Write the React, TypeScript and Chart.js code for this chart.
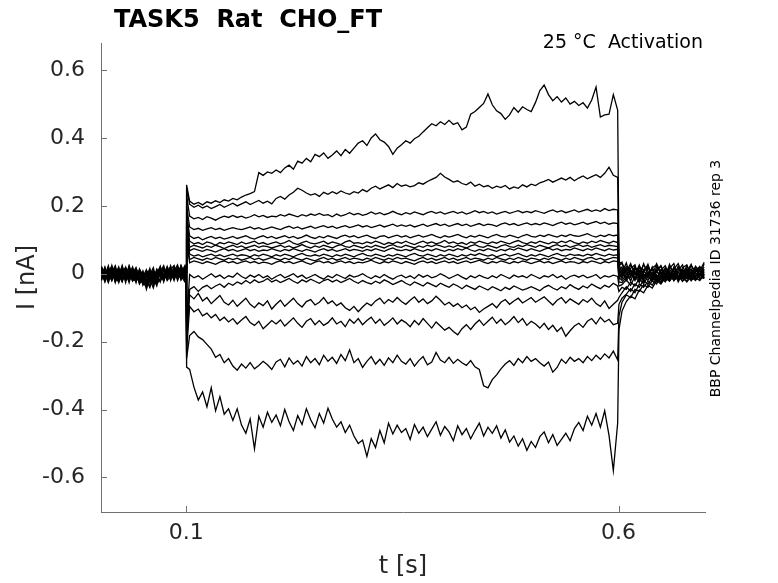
import React, { useEffect, useRef } from "react";
import { Chart, registerables } from "chart.js";

Chart.register(...registerables);

const TITLE = "TASK5  Rat  CHO_FT";
const CONDITION = "25 °C  Activation";
const SOURCE = "BBP Channelpedia ID 31736 rep 3";
const X_LABEL = "t [s]";
const Y_LABEL = "I [nA]";

const xTicks = [0.1, 0.6];
const yTicks = [-0.6, -0.4, -0.2, 0, 0.2, 0.4, 0.6];

// sampling of the sweeps (s)
const PRE_START = 0.002;
const PRE_DT = 0.004;
const PRE_LAST = 0.0998;
const PULSE_ON = 0.1005;
const STEP_START = 0.104;
const STEP_DT = 0.005;
const PULSE_OFF = 0.6005;
const POST_START = 0.604;
const POST_DT = 0.005;

// currents, in pA (1e-3 nA)
// holding before the pulse, one row per sweep
const preHold = [
  [12, -18, 6, 22, -10, -24, 8, 16, -6, 20, -16, 2, -28, 10, -4, 18, -20, 6, 24, -8, 14, -14, 4, 20, -10, 8],
  [-20, 10, -6, 18, -26, 4, 14, -12, 24, -4, -18, 8, -34, -10, 16, -22, 2, 20, -14, 6, -8, 22, -4, 12, -18, 16],
  [16, -4, 24, -16, 8, -22, 2, 18, -10, 6, -26, 14, -8, -20, -40, 4, -14, 10, -6, 18, -20, 8, 26, -6, 14, -2],
  [-8, 20, -14, 4, -22, 14, -2, -18, 10, -12, 16, -6, -24, 6, -16, -42, -6, 14, -10, 22, -2, 10, -16, 24, 4, 18],
  [6, -24, 12, -8, 18, -4, 22, -14, 2, -20, 8, -28, 4, -46, -12, 10, -22, 16, -4, -14, 12, 24, -8, 6, 18, -6],
  [-14, 4, -22, 12, -2, 20, -16, 8, -26, 14, -6, -12, -30, -4, 10, -18, 14, -2, -20, 8, 20, -10, 14, -4, 22, 2],
  [20, -10, 2, -20, 14, -6, -24, 10, -8, 18, -14, -4, -18, -32, 8, -12, -36, 10, -16, 4, -6, 18, 2, -12, 10, 26],
  [-2, 14, -20, 6, 24, -12, 10, -4, -22, 2, 18, -16, -8, 12, -24, -2, -26, 8, 16, -12, -2, 14, -10, 20, -6, 12],
  [10, -16, 18, -2, -12, 8, -20, 16, 4, -14, -4, -22, -12, -18, 6, -10, 2, -24, 12, -6, 24, -14, 6, -2, 16, -10],
  [-16, 6, -8, 16, -4, -20, 12, -26, 18, -8, -18, 12, -2, -34, -14, 8, -20, 14, -24, 10, 4, -12, 18, -8, 2, 20],
  [22, -8, -16, 4, 16, -10, -2, 20, -14, 12, -6, -24, 8, -22, -4, -28, 10, -10, -2, 16, -16, 4, -6, 24, -12, 0],
  [-6, 18, -12, 24, -18, 10, -22, 2, 14, -10, -24, 4, -28, -6, -12, -20, -6, 22, -14, 4, 14, -2, 20, -18, 8, -8],
  [4, -22, 14, -6, 8, -14, 18, -20, -4, 10, 0, -30, -14, -8, 2, -34, -8, -2, 18, -12, 6, -20, 10, -2, -14, 22],
  [-12, 8, 2, -20, 6, -8, 24, -14, 6, -22, -10, 10, -18, 4, -38, -14, -12, 2, -20, 14, -4, 12, -12, 18, -4, 6],
  [14, -2, -26, 6, -12, 16, -8, -18, 12, -4, 8, -20, -10, -26, -16, 6, -32, -14, 10, -20, -6, 16, -20, 4, 12, -12],
  [-18, 12, -6, 10, -24, -2, 6, -10, 22, -18, -2, -14, -6, -20, -10, -24, 4, -4, -8, 10, -14, -2, 6, -6, -22, 10],
  [2, -20, 14, -12, 2, -26, 16, -6, -16, 8, -20, 6, -24, -40, -20, 2, -14, -22, -2, -16, 10, -8, 16, -16, 10, -4],
];

// capacitive transient at pulse onset
const onsetPeak = [262, 250, 230, 200, 180, 160, 150, 140, 120, 110, 100, -150, -170, -200, -230, -250, -275];

// current during the voltage step
const stepCurrent = [
  [214, 205, 210, 203, 212, 208, 215, 210, 218, 214,
   222, 218, 226, 232, 236, 242, 298, 290, 300, 296,
   306, 298, 312, 320, 308, 332, 326, 340, 330, 352,
   345, 356, 340, 350, 362, 348, 366, 355, 370, 385,
   392, 378, 400, 412, 395, 388, 375, 352, 370, 380,
   392, 385, 398, 405, 418, 430, 442, 436, 448, 440,
   452, 440, 445, 424, 432, 470, 478, 490, 502, 530,
   498, 480, 472, 455, 468, 490, 476, 492, 484, 478,
   505, 540, 556, 528, 510, 522, 506, 518, 500, 508,
   496, 504, 488, 512, 550, 462, 468, 470, 528, 482],
  [205, 196, 202, 194, 200, 192, 198, 204, 196, 202,
   208, 200, 206, 212, 204, 210, 216, 208, 214, 206,
   222, 228, 220, 232, 240, 252, 246, 238, 232, 236,
   228, 240, 234, 242, 236, 244, 238, 234, 242, 238,
   248, 242, 252, 258, 250, 256, 262, 254, 266, 258,
   262, 256, 260, 268, 264, 272, 278, 284, 296, 285,
   278, 270, 274, 266, 262, 270, 258, 264, 256, 260,
   252, 258, 254, 260, 250, 256, 252, 262, 256, 264,
   260, 268, 272, 278, 270, 276, 282, 276, 284, 274,
   282, 288, 280, 286, 292, 284, 296, 314, 290, 284],
  [170, 162, 166, 160, 168, 164, 158, 165, 170, 166,
   172, 166, 170, 164, 168, 174, 168, 172, 166, 170,
   168, 174, 170, 176, 172, 168, 174, 170, 176, 172,
   178, 172, 174, 168, 176, 170, 174, 180, 174, 178,
   172, 176, 182, 176, 180, 174, 178, 184, 178, 174,
   180, 176, 182, 178, 174, 180, 184, 178, 182, 176,
   180, 184, 178, 182, 176, 180, 186, 180, 184, 178,
   182, 176, 180, 184, 178, 182, 186, 180, 184, 180,
   186, 182, 178, 184, 188, 182, 186, 180, 184, 188,
   182, 186, 190, 184, 188, 184, 192, 186, 190, 188],
  [138, 130, 134, 128, 132, 136, 130, 134, 128, 132,
   136, 132, 130, 134, 138, 132, 136, 130, 134, 138,
   134, 130, 136, 140, 134, 138, 132, 136, 140, 134,
   138, 142, 136, 140, 134, 138, 142, 136, 140, 144,
   138, 142, 136, 140, 144, 138, 142, 146, 140, 144,
   140, 144, 138, 142, 146, 140, 144, 148, 142, 146,
   140, 144, 148, 142, 146, 140, 144, 148, 142, 146,
   144, 140, 146, 150, 144, 148, 142, 146, 150, 144,
   148, 144, 150, 146, 142, 148, 152, 146, 150, 144,
   148, 152, 146, 150, 154, 148, 152, 146, 150, 148],
  [112, 104, 108, 100, 106, 110, 104, 108, 102, 106,
   110, 104, 108, 112, 106, 102, 108, 112, 106, 110,
   104, 108, 112, 106, 110, 104, 108, 114, 108, 104,
   110, 106, 112, 108, 104, 110, 114, 108, 112, 106,
   110, 114, 108, 104, 110, 112, 106, 110, 114, 108,
   112, 106, 110, 114, 108, 112, 116, 110, 106, 112,
   108, 112, 116, 110, 106, 112, 108, 114, 110, 106,
   112, 116, 110, 108, 114, 110, 106, 112, 116, 110,
   108, 114, 110, 116, 112, 108, 114, 110, 116, 112,
   110, 114, 118, 112, 108, 114, 110, 116, 112, 114],
  [96, 88, 92, 86, 94, 90, 84, 92, 88, 94,
   90, 86, 94, 88, 92, 96, 88, 92, 86, 90,
   94, 88, 92, 98, 90, 86, 92, 96, 90, 88,
   92, 96, 88, 94, 90, 86, 94, 98, 90, 92,
   88, 94, 90, 96, 92, 86, 92, 88, 94, 90,
   96, 90, 86, 92, 96, 90, 94, 88, 92, 98,
   90, 94, 88, 92, 86, 94, 90, 96, 92, 88,
   94, 90, 96, 92, 88, 94, 98, 92, 88, 94,
   90, 96, 92, 88, 94, 90, 96, 92, 98, 92,
   88, 94, 90, 96, 92, 98, 94, 90, 96, 92],
  [78, 84, 80, 76, 82, 78, 84, 80, 74, 80,
   84, 78, 82, 76, 80, 84, 78, 82, 80, 76,
   80, 84, 78, 82, 76, 80, 86, 80, 76, 82,
   78, 84, 80, 76, 82, 86, 80, 78, 84, 80,
   76, 82, 78, 84, 80, 76, 82, 86, 80, 78,
   84, 80, 76, 82, 78, 84, 80, 86, 82, 78,
   82, 78, 84, 80, 76, 82, 86, 80, 78, 84,
   80, 76, 82, 86, 80, 78, 84, 80, 86, 82,
   78, 84, 80, 76, 82, 86, 80, 84, 78, 82,
   86, 80, 84, 78, 82, 86, 80, 84, 82, 80],
  [68, 74, 70, 66, 72, 68, 64, 70, 74, 68,
   72, 66, 70, 74, 68, 72, 66, 70, 68, 74,
   70, 66, 72, 68, 74, 70, 66, 72, 68, 64,
   70, 74, 68, 72, 66, 70, 74, 68, 72, 70,
   66, 72, 68, 74, 70, 66, 72, 76, 70, 68,
   72, 68, 74, 70, 66, 72, 68, 74, 70, 66,
   72, 68, 74, 70, 76, 70, 66, 72, 68, 74,
   70, 66, 72, 68, 74, 70, 76, 72, 68, 74,
   70, 66, 72, 76, 70, 74, 68, 72, 70, 76,
   72, 68, 74, 70, 76, 72, 68, 74, 70, 72],
  [58, 52, 56, 50, 54, 58, 52, 56, 50, 54,
   58, 52, 56, 54, 50, 56, 52, 58, 54, 50,
   56, 52, 58, 54, 50, 56, 60, 54, 52, 56,
   52, 58, 54, 50, 56, 52, 58, 54, 50, 56,
   60, 54, 52, 58, 54, 50, 56, 52, 58, 54,
   50, 56, 60, 54, 52, 58, 54, 50, 56, 52,
   58, 54, 50, 56, 52, 58, 54, 60, 56, 52,
   56, 50, 54, 58, 52, 56, 60, 54, 50, 56,
   52, 58, 54, 50, 56, 60, 54, 52, 58, 54,
   56, 52, 58, 54, 60, 56, 52, 58, 54, 56],
  [42, 48, 44, 40, 46, 42, 48, 44, 40, 46,
   42, 46, 40, 44, 48, 42, 46, 40, 44, 48,
   44, 40, 46, 42, 48, 44, 40, 46, 42, 38,
   44, 48, 42, 46, 40, 44, 48, 42, 46, 44,
   40, 46, 42, 48, 44, 40, 46, 42, 48, 44,
   46, 42, 38, 44, 48, 42, 46, 40, 44, 48,
   42, 46, 40, 44, 48, 42, 46, 44, 40, 46,
   42, 48, 44, 40, 46, 42, 48, 44, 40, 46,
   44, 40, 46, 42, 48, 44, 40, 46, 42, 48,
   44, 40, 46, 48, 42, 46, 40, 44, 48, 46],
  [32, 38, 34, 30, 36, 32, 28, 34, 38, 32,
   36, 30, 34, 38, 32, 36, 30, 34, 32, 28,
   34, 38, 32, 36, 30, 34, 38, 32, 28, 34,
   38, 32, 36, 30, 34, 38, 32, 36, 30, 34,
   32, 36, 40, 34, 30, 36, 32, 38, 34, 30,
   36, 32, 28, 34, 38, 32, 36, 30, 34, 38,
   32, 36, 30, 34, 38, 32, 36, 40, 34, 30,
   36, 32, 38, 34, 30, 36, 32, 38, 34, 30,
   34, 38, 32, 36, 30, 34, 38, 32, 36, 34,
   30, 36, 32, 38, 34, 30, 36, 32, 38, 36],
  [-2, -12, -6, -16, -8, 0, -10, -4, -14, -6,
   -10, 2, -8, -14, -4, -10, -2, -12, -6, -16,
   -8, -2, -12, -6, 0, -10, -4, -14, -8, -2,
   -10, -16, -6, -12, -2, -8, -14, -4, -10, -6,
   0, -8, -14, -6, -12, -2, -10, -16, -8, -4,
   -12, -6, -14, -2, -10, -4, -12, -8, 0, -6,
   -14, -8, -2, -10, -16, -6, -12, -4, -10, -14,
   -6, -12, -2, -8, -14, -4, -10, -6, -12, -2,
   -8, -14, -6, -10, -2, -12, -6, -16, -8, -4,
   -10, -4, -12, -8, -2, -14, -6, -10, -4, -8],
  [-46, -38, -52, -40, -34, -44, -36, -30, -40, -28,
   -34, -24, -30, -20, -28, -18, -26, -22, -14, -24,
   -18, -26, -20, -14, -22, -28, -18, -24, -16, -22,
   -28, -20, -16, -24, -18, -26, -20, -14, -22, -28,
   -20, -26, -30, -22, -28, -18, -24, -32, -26, -20,
   -28, -34, -24, -30, -36, -26, -32, -38, -28, -34,
   -40, -30, -36, -44, -34, -40, -46, -36, -42, -48,
   -38, -44, -50, -40, -46, -36, -42, -48, -44, -38,
   -44, -50, -40, -34, -42, -48, -38, -44, -32, -40,
   -46, -36, -42, -30, -38, -44, -34, -40, -28, -36],
  [-62, -74, -58, -80, -70, -88, -76, -64, -84, -92,
   -78, -96, -84, -72, -90, -100, -86, -94, -80, -104,
   -90, -78, -96, -84, -72, -88, -98, -82, -76, -92,
   -84, -70, -88, -80, -94, -86, -100, -108, -96, -112,
   -98, -86, -94, -80, -72, -88, -76, -84, -70, -82,
   -90, -78, -68, -84, -74, -88, -80, -66, -78, -92,
   -84, -96, -88, -100, -92, -106, -98, -114, -104, -96,
   -88, -100, -84, -76, -90, -80, -72, -86, -78, -70,
   -84, -76, -68, -80, -92, -78, -70, -86, -74, -82,
   -90, -76, -84, -72, -88, -96, -80, -102, -90, -78],
  [-96, -112, -104, -124, -116, -130, -120, -138, -128, -142,
   -132, -148, -136, -126, -144, -152, -140, -162, -150, -138,
   -148, -136, -154, -142, -130, -146, -158, -140, -132, -150,
   -138, -152, -144, -130, -148, -140, -156, -134, -146, -132,
   -150, -138, -128, -146, -134, -152, -142, -130, -148, -136,
   -144, -156, -138, -150, -132, -146, -160, -142, -154, -166,
   -158, -170, -180, -162, -150, -164, -148, -136, -152, -140,
   -128, -146, -134, -150, -140, -126, -144, -132, -152, -140,
   -148, -160, -146, -164, -152, -170, -158, -184, -168, -154,
   -146, -158, -140, -132, -148, -128, -142, -134, -150, -146],
  [-182, -170, -186, -194, -208, -222, -246, -238, -262, -250,
   -272, -284, -266, -278, -262, -280, -270, -258, -268, -282,
   -260, -252, -274, -248, -266, -256, -272, -244, -262, -250,
   -268, -240, -258, -246, -264, -238, -256, -224, -262, -250,
   -276, -258, -244, -266, -252, -270, -248, -262, -240, -258,
   -266, -250, -272, -256, -244, -268, -260, -232, -254, -262,
   -246, -264, -252, -262, -270, -256, -274, -282, -330, -336,
   -312, -298, -280, -266, -256, -270, -250, -262, -244, -258,
   -250, -262, -272, -260, -290, -276, -252, -264, -246, -258,
   -250, -262, -244, -256, -240, -252, -236, -248, -228, -254],
  [-282, -334, -372, -348, -392, -336, -404, -362, -414, -398,
   -432, -398, -446, -470, -428, -516, -420, -452, -408, -438,
   -416, -448, -400, -436, -462, -418, -444, -398, -430, -454,
   -412, -440, -396, -428, -452, -436, -468, -446, -478, -500,
   -490, -538, -486, -512, -462, -498, -440, -472, -446, -468,
   -456, -488, -444, -470, -452, -480, -458, -436, -476, -450,
   -466, -492, -448, -474, -456, -486, -462, -440, -478, -452,
   -470, -448, -484, -460, -496, -478, -508, -486, -520, -494,
   -512, -480, -466, -498, -474, -506, -488, -470, -492, -456,
   -438, -462, -420, -446, -412, -452, -404, -476, -580, -440],
];

// tail at pulse offset followed by the holding current after the pulse
const postHold = [
  [36, 28, 6, 30, -4, 22, 10, -8, 18, 26, -2, 14, -12, 20, 4, -6, 24, 0, 16, -8, 30],
  [28, 4, 32, -10, 18, -2, 26, 8, -14, 12, 22, -6, 16, 30, -10, 8, -2, 24, 6, 18, -4],
  [22, 34, -2, 16, 26, -12, 8, 20, -4, 30, 2, -14, 22, 6, -8, 18, 26, -6, 12, 0, 20],
  [16, -6, 22, 8, -16, 18, 2, 28, -10, 6, 24, -2, -18, 14, 30, -4, 10, -14, 22, 8, 34],
  [10, 20, -12, 26, 6, -8, 30, -2, 14, -16, 10, 24, -6, -2, 20, -12, 6, 28, -8, 16, 2],
  [6, -14, 16, -4, 22, -18, 12, 24, -6, 8, -12, 18, 2, -20, 10, 26, -10, 4, 18, -6, 12],
  [2, 14, -20, 10, -2, 26, -10, 4, -18, 20, 6, -8, 28, -4, -16, 12, 0, -12, 8, 22, -6],
  [-4, -8, 8, -22, 14, 2, -16, 18, -6, -20, 12, -2, 6, -14, 22, -8, 16, -20, 2, -4, 14],
  [-10, -20, -2, 12, -14, 6, -24, 2, 12, -8, -18, 8, -10, 18, -6, -22, 4, 12, -10, 10, -12],
  [-16, 6, -18, -6, 4, -22, 0, -12, 20, -10, 2, -20, 14, -8, -18, 6, -14, -2, 20, -16, 4],
  [-24, -26, -10, 2, -20, 10, -14, -4, -22, 8, -6, -16, -2, 10, -24, 0, -8, 14, -18, -2, -14],
  [-36, -32, -18, -34, -8, -26, -2, -20, 4, -14, -24, 2, -18, -8, 6, -22, -10, 4, -16, -4, 8],
  [-52, -40, -46, -24, -36, -14, -30, -8, -22, -2, -26, -12, 4, -20, -6, -14, -22, 0, -12, -20, -2],
  [-70, -56, -38, -52, -30, -40, -18, -32, -10, -24, -4, -20, -14, 2, -18, -6, -24, -8, 4, -16, -10],
  [-90, -72, -60, -44, -56, -30, -40, -22, -34, -12, -26, -6, -20, -2, -16, -12, -4, -20, -8, 2, -14],
  [-125, -84, -62, -70, -46, -52, -32, -40, -20, -30, -10, -24, -4, -18, -10, 2, -14, -6, -20, -2, -8],
  [-165, -110, -82, -66, -74, -48, -56, -34, -42, -20, -30, -12, -22, -4, -14, -8, 2, -12, -18, -4, -10],
];

const AXIS_COLOR = "#707070";
const TEXT_COLOR = "#262626";
const FONT = "'DejaVu Sans', sans-serif";

const buildSweep = (i: number) => {
  const pts: { x: number; y: number }[] = [];
  preHold[i].forEach((v, j) => {
    pts.push({ x: Math.min(PRE_START + PRE_DT * j, PRE_LAST), y: v / 1000 });
  });
  pts.push({ x: PULSE_ON, y: onsetPeak[i] / 1000 });
  stepCurrent[i].forEach((v, k) => {
    pts.push({ x: STEP_START + STEP_DT * k, y: v / 1000 });
  });
  postHold[i].forEach((v, j) => {
    pts.push({ x: j === 0 ? PULSE_OFF : POST_START + POST_DT * (j - 1), y: v / 1000 });
  });
  return pts;
};

const fmt = (v: number) => String(Math.round(v * 10) / 10);

const decorations = {
  id: "decorations",
  afterDraw(chart: any) {
    const { ctx, chartArea, scales } = chart;
    ctx.save();
    // inward tick marks
    ctx.strokeStyle = AXIS_COLOR;
    ctx.lineWidth = 1;
    ctx.beginPath();
    yTicks.forEach((v) => {
      const y = Math.round(scales.y.getPixelForValue(v)) + 0.5;
      ctx.moveTo(chartArea.left, y);
      ctx.lineTo(chartArea.left + 6, y);
    });
    xTicks.forEach((v) => {
      const x = Math.round(scales.x.getPixelForValue(v)) + 0.5;
      ctx.moveTo(x, chartArea.bottom);
      ctx.lineTo(x, chartArea.bottom - 6);
    });
    ctx.stroke();

    // title
    ctx.fillStyle = "#000";
    ctx.font = `bold 24px ${FONT}`;
    ctx.textAlign = "left";
    ctx.textBaseline = "alphabetic";
    ctx.fillText(TITLE, 114, 27);

    // condition
    ctx.font = `19px ${FONT}`;
    ctx.textAlign = "right";
    ctx.fillText(CONDITION, 703, 48);

    // axis labels
    ctx.fillStyle = TEXT_COLOR;
    ctx.font = `24px ${FONT}`;
    ctx.textAlign = "center";
    ctx.textBaseline = "middle";
    ctx.fillText(X_LABEL, (chartArea.left + chartArea.right) / 2, 567);
    ctx.save();
    ctx.translate(27.5, (chartArea.top + chartArea.bottom) / 2);
    ctx.rotate(-Math.PI / 2);
    ctx.fillText(Y_LABEL, 0, 0);
    ctx.restore();

    // source note on the right
    ctx.save();
    ctx.fillStyle = "#000";
    ctx.font = `14px ${FONT}`;
    ctx.translate(716, 278.5);
    ctx.rotate(-Math.PI / 2);
    ctx.fillText(SOURCE, 0, 0);
    ctx.restore();

    ctx.restore();
  },
};

const App = () => {
  const canvasRef = useRef<HTMLCanvasElement>(null);

  useEffect(() => {
    if (!canvasRef.current) return;
    const ctx = canvasRef.current.getContext("2d");
    if (!ctx) return;

    const chart = new Chart(ctx, {
      type: "line",
      data: {
        datasets: stepCurrent.map((_, i) => ({
          data: buildSweep(i),
          borderColor: "#000",
          borderWidth: 1.3,
          pointRadius: 0,
          tension: 0,
          fill: false,
        })),
      },
      options: {
        animation: false,
        responsive: false,
        events: [],
        layout: { padding: { top: 43, right: 73, bottom: 0, left: 0 } },
        plugins: {
          legend: { display: false },
          tooltip: { enabled: false },
          title: { display: false },
        },
        scales: {
          x: {
            type: "linear",
            min: 0.0015,
            max: 0.7,
            afterFit: (s: any) => {
              s.height = 71;
            },
            afterBuildTicks: (s: any) => {
              s.ticks = xTicks.map((v) => ({ value: v }));
            },
            grid: { display: false, drawTicks: false },
            border: { display: true, color: AXIS_COLOR, width: 1 },
            ticks: {
              padding: 8,
              color: TEXT_COLOR,
              font: { family: FONT, size: 22 },
              maxRotation: 0,
              callback: (v: any) => fmt(Number(v)),
            },
          },
          y: {
            type: "linear",
            min: -0.702,
            max: 0.68,
            afterFit: (s: any) => {
              s.width = 101;
            },
            afterBuildTicks: (s: any) => {
              s.ticks = yTicks.map((v) => ({ value: v }));
            },
            grid: { display: false, drawTicks: false },
            border: { display: true, color: AXIS_COLOR, width: 1 },
            ticks: {
              padding: 16,
              color: TEXT_COLOR,
              font: { family: FONT, size: 22 },
              callback: (v: any) => fmt(Number(v)),
            },
          },
        },
      },
      plugins: [decorations],
    });

    return () => {
      chart.destroy();
    };
  }, []);

  return (
    <div style={{ position: "absolute", left: 0, top: 0, width: 778, height: 583, background: "#fff" }}>
      <canvas ref={canvasRef} width={778} height={583} style={{ display: "block" }} />
    </div>
  );
};

export default App;
